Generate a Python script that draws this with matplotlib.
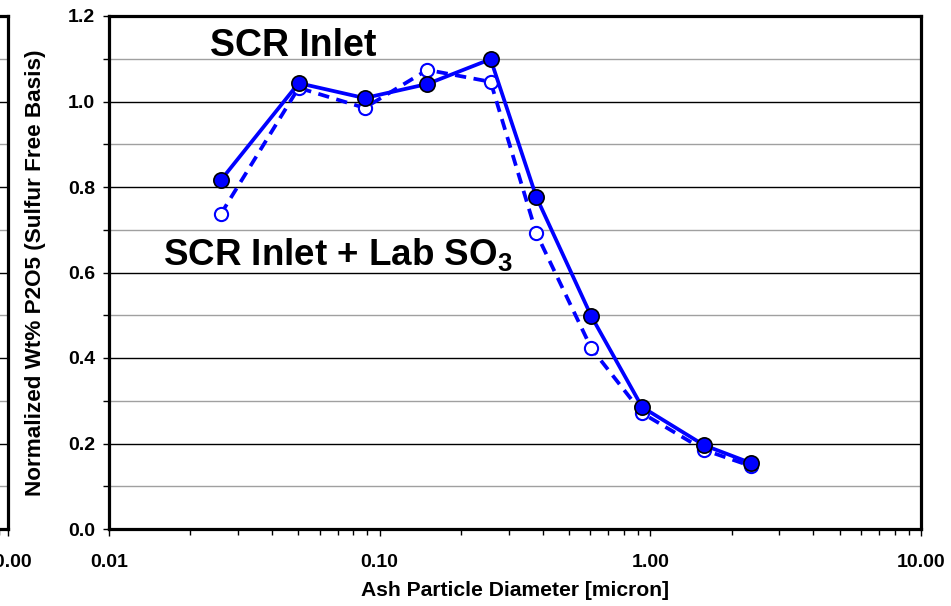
import numpy as np
import matplotlib.pyplot as plt
from matplotlib.ticker import FixedLocator, FormatStrFormatter, LogLocator, NullFormatter, FuncFormatter

# Data
diam = [0.0259, 0.0502, 0.088, 0.150, 0.257, 0.379, 0.605, 0.933, 1.58, 2.36]
scr_inlet = [0.816, 1.043, 1.008, 1.041, 1.099, 0.777, 0.498, 0.285, 0.196, 0.154]
scr_lab_so3 = [0.737, 1.032, 0.985, 1.074, 1.046, 0.692, 0.423, 0.271, 0.185, 0.147]

xticks = [0.01, 0.1, 1.0, 10.0]
yticks = [0.0, 0.2, 0.4, 0.6, 0.8, 1.0, 1.2]

plt.rcParams.update({'font.family': ['Liberation Sans', 'DejaVu Sans'],
                     'font.weight': 'bold',
                     'mathtext.fontset': 'custom',
                     'mathtext.bf': 'Liberation Sans:bold',
                     'mathtext.rm': 'Liberation Sans:bold'})

fig = plt.figure(figsize=(9.51, 6.06), dpi=100)

W, H = 951, 606
x0, x1, y0, y1 = 109, 921, 16, 529
pos = [x0 / W, 1 - y1 / H, (x1 - x0) / W, (y1 - y0) / H]


def style_axes(ax):
    ax.set_xscale('log')
    ax.set_xlim(0.01, 10)
    ax.set_ylim(0, 1.2)
    ax.xaxis.set_major_locator(FixedLocator(xticks))
    ax.xaxis.set_minor_locator(LogLocator(base=10, subs=np.arange(2, 10)))
    ax.xaxis.set_minor_formatter(NullFormatter())
    ax.xaxis.set_major_formatter(FormatStrFormatter('%.2f'))
    ax.set_yticks(yticks)
    ax.set_yticks(np.arange(0.1, 1.2, 0.2), minor=True)
    ax.yaxis.set_major_formatter(FormatStrFormatter('%.1f'))
    # horizontal grid: black at majors, gray at minors
    ax.grid(axis='y', which='major', color='black', linewidth=1.0)
    ax.grid(axis='y', which='minor', color='#a0a0a0', linewidth=1.0)
    ax.set_axisbelow(True)
    for s in ax.spines.values():
        s.set_linewidth(2.3)
    ax.tick_params(axis='y', which='both', direction='out', length=4,
                   width=1, labelsize=14, pad=6)
    ax.tick_params(axis='x', which='major', direction='out', length=5,
                   width=1, labelsize=14, pad=13)
    ax.tick_params(axis='x', which='minor', direction='out', length=4,
                   width=1)


# neighbouring chart, mostly cut off at the left edge
ax0 = fig.add_axes([-0.6, pos[1], 0.6 + 8 / W, pos[3]])
style_axes(ax0)
ax0.tick_params(axis='y', labelleft=False)
ax0.xaxis.set_major_formatter(FuncFormatter(lambda v, p: '10.00' if v >= 10 else ''))

ax = fig.add_axes(pos)
style_axes(ax)

ax.plot(diam, scr_lab_so3, color='#0000FF', linestyle=(0, (3, 2)), linewidth=2.7,
        marker='o', markersize=9.5, markerfacecolor='white',
        markeredgecolor='#0000FF', markeredgewidth=1.5, zorder=3)
ax.plot(diam, scr_inlet, color='#0000FF', linestyle='-', linewidth=2.7,
        marker='o', markersize=11, markerfacecolor='#0000FF',
        markeredgecolor='black', markeredgewidth=1.2, zorder=4)

ax.text(0.0236, 1.13, 'SCR Inlet', fontsize=27, fontweight='bold',
        ha='left', va='center')
ax.text(0.0158, 0.641, 'SCR Inlet + Lab SO$_\\mathbf{3}$', fontsize=26.5,
        fontweight='bold', ha='left', va='center')

ax.set_ylabel('Normalized Wt% P2O5 (Sulfur Free Basis)', fontsize=16.2,
              fontweight='bold', labelpad=16)
ax.set_xlabel('Ash Particle Diameter [micron]', fontsize=15.2,
              fontweight='bold', labelpad=7)

fig.savefig('out.png', dpi=100)
